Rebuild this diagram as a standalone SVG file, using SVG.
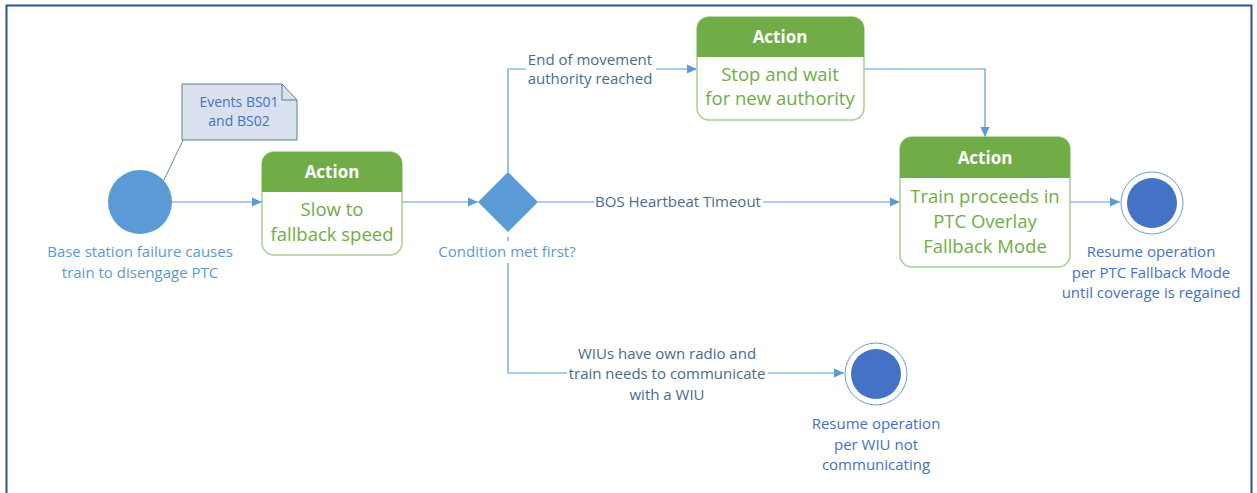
<svg xmlns="http://www.w3.org/2000/svg" width="1257" height="493" viewBox="0 0 1257 493">
<style>
text{font-family:"Open Sans","Noto Sans","Liberation Sans",sans-serif;}
.lbl{font-size:15px;fill:#5b9bd5;text-anchor:middle;}
.end{font-size:15px;fill:#4472c4;text-anchor:middle;}
.note{font-size:14px;fill:#4472c4;text-anchor:middle;}
.cl{font-size:15px;fill:#4a6b8c;text-anchor:middle;}
.hd{font-size:17px;font-weight:bold;fill:#ffffff;text-anchor:middle;}
.bd{font-size:18.5px;fill:#70ad47;text-anchor:middle;}
.box{fill:#ffffff;stroke:#a9d18e;stroke-width:1.5;}
.head{fill:#70ad47;}
.ln{fill:none;stroke:#5b9bd5;stroke-width:1.2;}
.mask{fill:#ffffff;}
</style>
<defs>
<marker id="arr" viewBox="0 0 10 10" refX="10" refY="5" markerWidth="10" markerHeight="10" markerUnits="userSpaceOnUse" orient="auto">
<path d="M0,0.5 L10,5 L0,9.5 z" fill="#5b9bd5"/>
</marker>
</defs>
<rect x="0" y="0" width="1257" height="493" fill="#ffffff"/>
<rect x="6.5" y="5.5" width="1245" height="500" fill="none" stroke="#2f528f" stroke-width="2"/>

<g id="connectors">
<line x1="183" y1="140" x2="164" y2="180" stroke="#6a8a9c" stroke-width="1"/>
<path class="ln" d="M172,202 H262" marker-end="url(#arr)"/>
<path class="ln" d="M402,202 H478" marker-end="url(#arr)"/>
<path class="ln" d="M508,172 V69 H697" marker-end="url(#arr)"/>
<path class="ln" d="M538,202 H900" marker-end="url(#arr)"/>
<path class="ln" d="M864,69 H985 V137" marker-end="url(#arr)"/>
<path class="ln" d="M1070,202 H1120" marker-end="url(#arr)"/>
<path class="ln" d="M508,237 V373 H844" marker-end="url(#arr)"/>
<rect class="mask" x="526" y="48" width="130" height="40"/>
<text class="cl" x="590" y="65">End of movement</text>
<text class="cl" x="590" y="84">authority reached</text>
<rect class="mask" x="594" y="194" width="169" height="16"/>
<text class="cl" x="678" y="207">BOS Heartbeat Timeout</text>
<rect class="mask" x="567" y="345" width="201" height="58"/>
<text class="cl" x="667" y="359">WIUs have own radio and</text>
<text class="cl" x="667" y="379">train needs to communicate</text>
<text class="cl" x="667" y="400">with a WIU</text>
</g>

<g id="note">
<path d="M182,84 H282 L297,100 V140 H182 Z" fill="#d9e0ee" stroke="#5f7f90" stroke-width="1"/>
<path d="M282,84 V100 H297" fill="none" stroke="#5f7f90" stroke-width="1"/>
<text class="note" x="239" y="107">Events BS01</text>
<text class="note" x="239" y="126">and BS02</text>
</g>

<g id="start">
<circle cx="140" cy="202" r="32" fill="#5b9bd5"/>
<text class="lbl" x="140" y="257">Base station failure causes</text>
<text class="lbl" x="140" y="278">train to disengage PTC</text>
</g>

<g id="action1">
<rect class="box" x="262" y="152" width="140" height="103" rx="12"/>
<path class="head" d="M262,192 V164 A12,12 0 0 1 274,152 H390 A12,12 0 0 1 402,164 V192 Z"/>
<text class="hd" x="332" y="178">Action</text>
<text class="bd" x="332" y="216">Slow to</text>
<text class="bd" x="332" y="241">fallback speed</text>
</g>

<g id="decision">
<path d="M508,172 L538,202 L508,232 L478,202 Z" fill="#5b9bd5"/>
<rect class="mask" x="436" y="241" width="144" height="22"/>
<text class="lbl" x="507" y="257">Condition met first?</text>
</g>

<g id="action2">
<rect class="box" x="697" y="17" width="167" height="103" rx="12"/>
<path class="head" d="M697,57 V29 A12,12 0 0 1 709,17 H852 A12,12 0 0 1 864,29 V57 Z"/>
<text class="hd" x="780" y="43">Action</text>
<text class="bd" x="780" y="81">Stop and wait</text>
<text class="bd" x="780" y="105">for new authority</text>
</g>

<g id="action3">
<rect class="box" x="900" y="137" width="170" height="130" rx="12"/>
<path class="head" d="M900,178 V149 A12,12 0 0 1 912,137 H1058 A12,12 0 0 1 1070,149 V178 Z"/>
<text class="hd" x="985" y="164">Action</text>
<text class="bd" x="985" y="203">Train proceeds in</text>
<text class="bd" x="985" y="228">PTC Overlay</text>
<text class="bd" x="985" y="253">Fallback Mode</text>
</g>

<g id="end1">
<circle cx="1152" cy="203" r="31" fill="#ffffff" stroke="#6f9ad8" stroke-width="1"/>
<circle cx="1152" cy="203" r="25" fill="#4472c4"/>
<text class="end" x="1151" y="257">Resume operation</text>
<text class="end" x="1151" y="278">per PTC Fallback Mode</text>
<text class="end" x="1151" y="298">until coverage is regained</text>
</g>

<g id="end2">
<circle cx="876" cy="374" r="31" fill="#ffffff" stroke="#6f9ad8" stroke-width="1"/>
<circle cx="876" cy="374" r="25" fill="#4472c4"/>
<text class="end" x="876" y="429">Resume operation</text>
<text class="end" x="876" y="450">per WIU not</text>
<text class="end" x="876" y="470">communicating</text>
</g>
</svg>
